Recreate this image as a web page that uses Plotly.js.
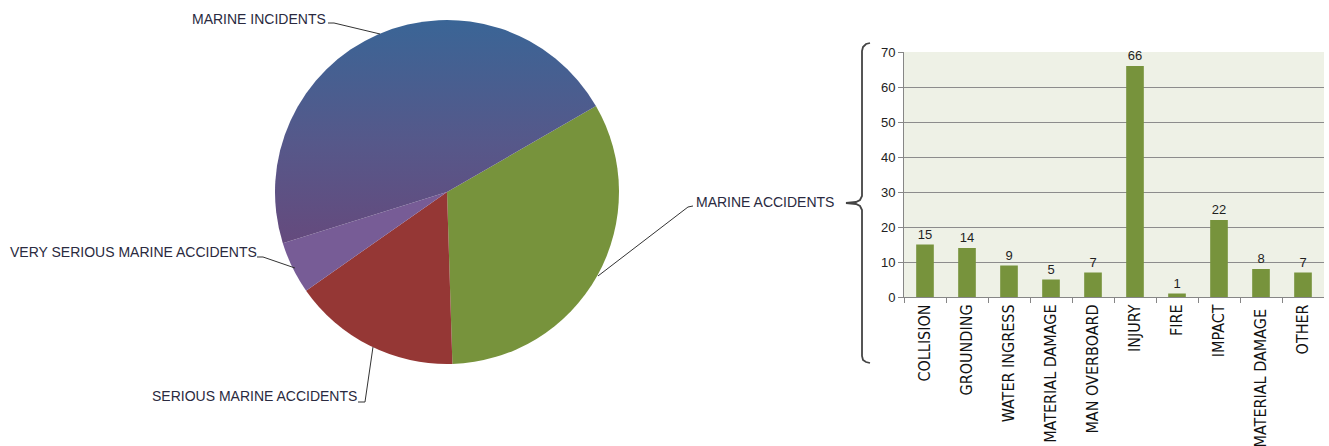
<!DOCTYPE html>
<html>
<head>
<meta charset="utf-8">
<script src="https://cdn.plot.ly/plotly-3.0.1.min.js"></script>
<style>html,body{margin:0;padding:0;background:#fff;}#chart{width:1329px;height:446px;}</style>
</head>
<body>
<div id="chart"></div>
<script>
// ---- data ----
const pieLabels = ["MARINE ACCIDENTS", "SERIOUS MARINE ACCIDENTS", "VERY SERIOUS MARINE ACCIDENTS", "MARINE INCIDENTS"];
const pieValues = [154, 74, 23, 218];
const pieColors = ["#77933c", "#953735", "#775c96", "#4f5a8a"];

const barCategories = ["COLLISION", "GROUNDING", "WATER INGRESS", "MATERIAL DAMAGE", "MAN OVERBOARD",
  "INJURY", "FIRE", "IMPACT", "MATERIAL DAMAGE\u00a0", "OTHER"];
const barValues = [15, 14, 9, 5, 7, 66, 1, 22, 8, 7];
const yTicks = [0, 10, 20, 30, 40, 50, 60, 70];

// ---- helpers (pixel -> paper) ----
const W = 1329, H = 446;
const px = x => x / W;
const py = y => 1 - y / H;
function path(pts) {
  return pts.map((p, i) => (i ? "L" : "M") + px(p[0]).toFixed(5) + "," + py(p[1]).toFixed(5)).join(" ");
}

const pieTrace = {
  type: "pie",
  labels: pieLabels,
  values: pieValues,
  sort: false,
  direction: "clockwise",
  rotation: 60,
  textinfo: "none",
  hoverinfo: "none",
  showlegend: false,
  marker: { colors: pieColors, line: { width: 0 } },
  domain: { x: [275 / W, 619 / W], y: [1 - 364 / H, 1 - 20 / H] }
};

const condFont = "DejaVu Sans Condensed, Liberation Sans Narrow, Liberation Sans, sans-serif";

const barTrace = {
  type: "bar",
  x: barCategories,
  y: barValues,
  text: barValues.map(String),
  textposition: "outside",
  cliponaxis: false,
  textfont: { family: "Liberation Sans, Arial, sans-serif", size: 13, color: "#1f1f1f" },
  marker: { color: "#77933c" },
  width: 0.42,
  hoverinfo: "none",
  showlegend: false,
  xaxis: "x",
  yaxis: "y"
};

const labelFont = { family: "Liberation Sans, Arial, sans-serif", size: 14, color: "#2a2a40" };
const pieAnn = [
  { text: pieLabels[3], x: 190, y: 19 },
  { text: pieLabels[2], x: 8, y: 252 },
  { text: pieLabels[1], x: 150, y: 396 },
  { text: pieLabels[0], x: 694, y: 202 }
].map(a => ({
  text: a.text, x: px(a.x), y: py(a.y), xref: "paper", yref: "paper",
  xanchor: "left", yanchor: "middle", showarrow: false, font: labelFont
}));

const lineStyle = { color: "#333", width: 1 };
const shapes = [
  { type: "path", xref: "paper", yref: "paper", path: path([[328, 23], [334, 23], [380, 34]]), line: lineStyle },
  { type: "path", xref: "paper", yref: "paper", path: path([[257, 257], [263, 257], [295, 268]]), line: lineStyle },
  { type: "path", xref: "paper", yref: "paper", path: path([[358, 402], [365, 402], [373, 347]]), line: lineStyle },
  { type: "path", xref: "paper", yref: "paper", path: path([[693, 206], [688, 207], [598, 276]]), line: lineStyle },
  // curly bracket
  { type: "path", xref: "paper", yref: "paper",
    path: path([[870, 43], [866, 44], [863, 47], [862, 51], [862, 196], [860, 200], [856, 202], [846, 203],
                [856, 204], [860, 206], [862, 210], [862, 356], [863, 360], [866, 362], [870, 363]]),
    line: { color: "#444", width: 1.8 } }
];

const layout = {
  width: W, height: H,
  margin: { l: 0, r: 0, t: 0, b: 0 },
  paper_bgcolor: "#ffffff",
  plot_bgcolor: "#eef1e6",
  font: { family: "Liberation Sans, Arial, sans-serif", size: 12, color: "#222" },
  xaxis: {
    domain: [904 / W, 1324 / W],
    anchor: "y",
    type: "category",
    tickangle: -90,
    ticks: "outside",
    tickson: "boundaries",
    ticklen: 5,
    tickcolor: "#868686",
    showline: true,
    linecolor: "#868686",
    linewidth: 1,
    showgrid: false,
    tickfont: { family: condFont, size: 16, color: "#111" },
    fixedrange: true
  },
  yaxis: {
    domain: [1 - 297 / H, 1 - 52 / H],
    anchor: "x",
    range: [0, 70],
    tickvals: yTicks,
    ticks: "outside",
    ticklen: 5,
    tickcolor: "#868686",
    showline: true,
    linecolor: "#868686",
    linewidth: 1,
    showgrid: true,
    gridcolor: "#8c8c8c",
    gridwidth: 1,
    zeroline: false,
    tickfont: { family: "Liberation Sans, Arial, sans-serif", size: 13, color: "#222" },
    fixedrange: true
  },
  annotations: pieAnn,
  shapes: shapes
};

Plotly.newPlot("chart", [pieTrace, barTrace], layout, { staticPlot: true, displayModeBar: false }).then(gd => {
  // vertical gradient on the MARINE INCIDENTS slice
  const svg = gd.querySelector("svg.main-svg");
  const ns = "http://www.w3.org/2000/svg";
  let defs = svg.querySelector("defs");
  if (!defs) { defs = document.createElementNS(ns, "defs"); svg.insertBefore(defs, svg.firstChild); }
  const grad = document.createElementNS(ns, "linearGradient");
  grad.setAttribute("id", "incGrad");
  grad.setAttribute("x1", "0"); grad.setAttribute("y1", "0");
  grad.setAttribute("x2", "0"); grad.setAttribute("y2", "1");
  [["0", "#3a6596"], ["0.55", "#56588a"], ["1", "#654a7d"]].forEach(s => {
    const st = document.createElementNS(ns, "stop");
    st.setAttribute("offset", s[0]); st.setAttribute("stop-color", s[1]);
    grad.appendChild(st);
  });
  defs.appendChild(grad);
  const slices = gd.querySelectorAll("g.slice path.surface");
  if (slices.length === pieLabels.length) {
    slices[3].style.fill = "url(#incGrad)";
  }
});
</script>
</body>
</html>
